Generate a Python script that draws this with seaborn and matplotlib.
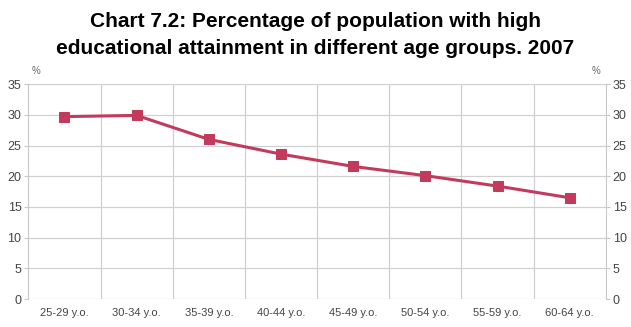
import numpy as np
import pandas as pd
import seaborn as sns
import matplotlib.pyplot as plt
from matplotlib.ticker import FixedLocator

sns.set_theme(style="white")
plt.rcParams['font.family'] = ['Liberation Sans', 'DejaVu Sans']

# values
age_groups = ['25-29 y.o.', '30-34 y.o.', '35-39 y.o.', '40-44 y.o.',
              '45-49 y.o.', '50-54 y.o.', '55-59 y.o.', '60-64 y.o.']
share_pct = [29.7, 29.9, 26.0, 23.6, 21.6, 20.1, 18.4, 16.5]
y_ticks = [0, 5, 10, 15, 20, 25, 30, 35]

df = pd.DataFrame({'pos': np.arange(len(age_groups)), 'share': share_pct})

fig = plt.figure(figsize=(6.31, 3.27), dpi=100)
ax = fig.add_axes([0.045, 0.085, 0.915, 0.658])

line_col = '#c23a5c'
sns.lineplot(data=df, x='pos', y='share', ax=ax, color=line_col, lw=2.2,
             marker='s', markersize=6.5, markeredgecolor=line_col)

ax.set_xlim(-0.5, len(age_groups) - 0.5)
ax.set_ylim(0, 35)
ax.set_xticks(df['pos'])
ax.set_xticklabels(age_groups)
ax.xaxis.set_minor_locator(FixedLocator(np.arange(0.5, len(age_groups) - 0.5, 1)))
ax.set_yticks(y_ticks)
ax.grid(axis='y', which='major', color='#d0d0d0', lw=0.9)
ax.grid(axis='x', which='minor', color='#d0d0d0', lw=0.9)
ax.set_xlabel('')
ax.set_ylabel('')

for s in ['top', 'bottom']:
    ax.spines[s].set_visible(False)
for s in ['left', 'right']:
    ax.spines[s].set_color('#c8c8c8')
    ax.spines[s].set_linewidth(0.8)

ax.tick_params(axis='x', which='both', length=0, labelsize=8, colors='#444444', pad=6)
ax.tick_params(axis='y', length=3, width=0.8, colors='#c8c8c8', labelcolor='#444444',
               labelsize=9, left=True, right=True, labelleft=True, labelright=True, pad=2)

ax.text(0.005, 1.045, '%', transform=ax.transAxes, fontsize=7, color='#666666', ha='left')
ax.text(0.99, 1.045, '%', transform=ax.transAxes, fontsize=7, color='#666666', ha='right')

fig.text(0.5, 1 - 27 / 327, 'Chart 7.2: Percentage of population with high',
         ha='center', va='baseline', fontsize=15, fontweight='bold', color='black')
fig.text(0.5, 1 - 54 / 327, 'educational attainment in different age groups. 2007',
         ha='center', va='baseline', fontsize=15, fontweight='bold', color='black')

plt.savefig('out.png', dpi=100)
